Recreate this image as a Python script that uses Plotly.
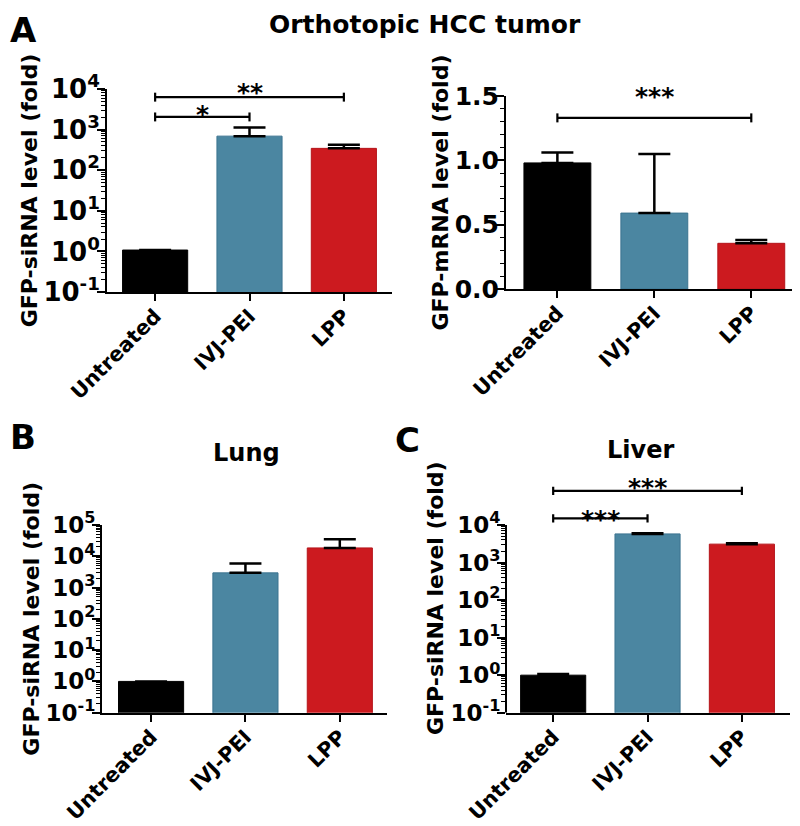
import numpy as np
import plotly.graph_objects as go

# page body keeps its default 8px margin, so the figure is made 8px smaller
# and reference pixel positions are shifted by that offset
OFF = 8
W, H = 800 - OFF, 826 - OFF
FONT = "DejaVu Sans"

categories = ["Untreated", "IVJ-PEI", "LPP"]
bar_colors = ["#000000", "#4B86A1", "#CC1A1F"]
edge_colors = ["#000000", "#3C7490", "#B5141A"]

# A, left: tumor GFP-siRNA (fold), bar value and top of error bar
tumor_sirna = [1.08, 690, 345]
tumor_sirna_top = [1.08, 1120, 425]

# A, right: tumor GFP-mRNA (fold)
tumor_mrna = [0.98, 0.59, 0.355]
tumor_mrna_top = [1.06, 1.05, 0.38]

# B: lung GFP-siRNA (fold)
lung_sirna = [1.0, 2950, 18500]
lung_sirna_top = [1.0, 5900, 35000]

# C: liver GFP-siRNA (fold)
liver_sirna = [1.0, 5800, 3100]
liver_sirna_top = [1.08, 6000, 3250]

log_tickvals = [0.1, 1, 10, 100, 1000, 10000, 100000]
log_ticktext = ["10<sup>-1</sup>", "10<sup>0</sup>", "10<sup>1</sup>", "10<sup>2</sup>",
                "10<sup>3</sup>", "10<sup>4</sup>", "10<sup>5</sup>"]
lin_tickvals = [0.0, 0.5, 1.0, 1.5]
lin_ticktext = ["0.0", "0.5", "1.0", "1.5"]

# significance brackets: (from, to, height, stars)
tumor_sirna_sig = [("Untreated", "LPP", 6300, "**"), ("Untreated", "IVJ-PEI", 2050, "*")]
tumor_mrna_sig = [("Untreated", "LPP", 1.33, "***")]
liver_sirna_sig = [("Untreated", "LPP", 81000, "***"), ("Untreated", "IVJ-PEI", 15000, "***")]


def px_x(p):
    return (p - OFF) / W


def px_y(p):
    return 1 - (p - OFF) / H


fig = go.Figure()


def add_bars(xa, ya, values, tops):
    fig.add_bar(
        x=categories, y=values, xaxis=xa, yaxis=ya, width=0.69,
        marker=dict(color=bar_colors, line=dict(color=edge_colors, width=1)),
        error_y=dict(type="data", symmetric=False,
                     array=[t - v for t, v in zip(tops, values)],
                     arrayminus=[0, 0, 0],
                     color="black", thickness=2.5, width=16),
        showlegend=False, hoverinfo="skip",
    )


def add_brackets(xa, ya, sigs, log, shifts):
    for (a, b, h, label), shift in zip(sigs, shifts):
        if log:
            lo, hi = h / 10 ** 0.11, h * 10 ** 0.11
        else:
            lo, hi = h - 0.035, h + 0.035
        fig.add_scatter(
            x=[a, a, None, a, b, None, b, b],
            y=[lo, hi, None, h, h, None, lo, hi],
            mode="lines", line=dict(color="black", width=2.2),
            xaxis=xa, yaxis=ya, showlegend=False, hoverinfo="skip",
        )
        mid = (categories.index(a) + categories.index(b)) / 2
        fig.add_annotation(
            x=mid, y=np.log10(h) if log else h, xref=xa, yref=ya,
            text=label, showarrow=False, yanchor="middle", yshift=shift,
            font=dict(family=FONT, size=25, color="black", weight="bold"),
        )


add_bars("x", "y", tumor_sirna, tumor_sirna_top)
add_bars("x2", "y2", tumor_mrna, tumor_mrna_top)
add_bars("x3", "y3", lung_sirna, lung_sirna_top)
add_bars("x4", "y4", liver_sirna, liver_sirna_top)

add_brackets("x", "y", tumor_sirna_sig, True, [5, 2])
add_brackets("x2", "y2", tumor_mrna_sig, False, [21])
add_brackets("x4", "y4", liver_sirna_sig, True, [3, -1])


def minor_log(top_exp):
    return [m * 10.0 ** k for k in range(-1, top_exp) for m in range(2, 10)]


def xaxis(domain, rng, anchor):
    return dict(
        domain=domain, anchor=anchor, range=rng,
        categoryorder="array", categoryarray=categories,
        showline=True, linecolor="black", linewidth=2,
        ticks="outside", ticklen=7, tickwidth=2, tickcolor="black",
        ticklabelstandoff=-5,
        tickangle=-45, showgrid=False, zeroline=False, automargin=False,
        tickfont=dict(family=FONT, size=20.5, color="black", weight="bold"),
    )


def yaxis(domain, anchor, title, tsize, **kw):
    d = dict(
        domain=domain, anchor=anchor,
        showline=True, linecolor="black", linewidth=2,
        ticks="outside", ticklen=8, tickwidth=2, tickcolor="black",
        ticklabelstandoff=-8,
        showgrid=False, zeroline=False, automargin=False,
        tickfont=dict(family=FONT, size=tsize, color="black", weight="bold"),
        title=dict(text=title, standoff=0,
                   font=dict(family=FONT, size=22, color="black", weight="bold")),
    )
    d.update(kw)
    return d


minor_style = dict(ticks="outside", ticklen=4, tickwidth=1.2, tickcolor="black", showgrid=False)

fig.update_layout(
    width=W, height=H,
    margin=dict(l=0, r=0, t=0, b=0),
    paper_bgcolor="white", plot_bgcolor="white",
    xaxis=xaxis([px_x(107), px_x(392)], [-0.51, 2.51], "y"),
    yaxis=yaxis([px_y(292), px_y(89)], "x", "GFP-siRNA level (fold)", 26,
                type="log", range=[-1, 4], tickmode="array",
                tickvals=log_tickvals, ticktext=log_ticktext,
                minor=dict(tickmode="array", tickvals=minor_log(4), **minor_style)),
    xaxis2=xaxis([px_x(506), px_x(792)], [-0.53, 2.42], "y2"),
    yaxis2=yaxis([px_y(289), px_y(96)], "x2", "GFP-mRNA level (fold)", 25,
                 range=[0, 1.5], tickmode="array",
                 tickvals=lin_tickvals, ticktext=lin_ticktext,
                 minor=dict(dtick=0.1, **minor_style)),
    xaxis3=xaxis([px_x(102), px_x(387)], [-0.52, 2.5], "y3"),
    yaxis3=yaxis([px_y(712.7), px_y(525)], "x3", "GFP-siRNA level (fold)", 23,
                 type="log", range=[-1, 5], tickmode="array",
                 tickvals=log_tickvals, ticktext=log_ticktext,
                 minor=dict(tickmode="array", tickvals=minor_log(5), **minor_style)),
    xaxis4=xaxis([px_x(506), px_x(790)], [-0.5, 2.51], "y4"),
    yaxis4=yaxis([px_y(712.7), px_y(483.75)], "x4", "GFP-siRNA level (fold)", 23,
                 type="log", range=[-1, 5.1], tickmode="array", showline=False,
                 tickvals=log_tickvals[:6], ticktext=log_ticktext[:6],
                 minor=dict(tickmode="array", tickvals=minor_log(4), **minor_style)),
)

# visible y axis line of panel C stops at 10^4 (brackets sit above it)
fig.add_shape(type="line", xref="x4 domain", yref="y4", x0=0, x1=0, y0=0.1, y1=10000,
              line=dict(color="black", width=2))

# panel letters and titles: (text, x px, y px, size, xanchor, yanchor)
labels = [
    ("A", OFF, OFF, 34, "left", "top"),
    ("Orthotopic HCC tumor", 425, OFF, 25, "center", "top"),
    ("B", OFF, 437, 34, "left", "middle"),
    ("C", 407, 440, 34, "center", "middle"),
    ("Lung", 246, 453, 24, "center", "middle"),
    ("Liver", 640, 450, 24, "center", "middle"),
]
for text, x, y, size, xan, yan in labels:
    fig.add_annotation(
        x=px_x(x), y=px_y(y), xref="paper", yref="paper", text=text, showarrow=False,
        xanchor=xan, yanchor=yan,
        font=dict(family=FONT, size=size, color="black", weight="bold"),
    )

fig.write_html("out.html")
